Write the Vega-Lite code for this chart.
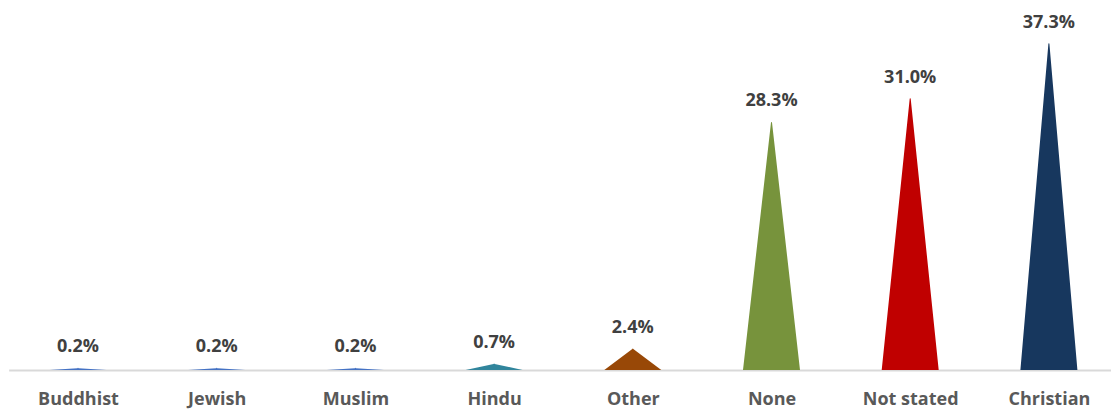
{
  "$schema": "https://vega.github.io/schema/vega-lite/v6.json",
  "autosize": "none",
  "padding": {"left": 0, "top": 0, "right": 0, "bottom": 40},
  "width": 1111,
  "height": 370,
  "config": {"view": {"stroke": null}},
  "data": {
    "values": [
      {"religion": "Buddhist", "pct": 0.002},
      {"religion": "Jewish", "pct": 0.002},
      {"religion": "Muslim", "pct": 0.002},
      {"religion": "Hindu", "pct": 0.007},
      {"religion": "Other", "pct": 0.024},
      {"religion": "None", "pct": 0.283},
      {"religion": "Not stated", "pct": 0.310},
      {"religion": "Christian", "pct": 0.373}
    ]
  },
  "encoding": {
    "x": {
      "field": "religion",
      "type": "nominal",
      "sort": null,
      "scale": {"range": [8.65, 1118.25], "paddingInner": 0, "paddingOuter": 0},
      "axis": {
        "title": null,
        "ticks": false,
        "domainColor": "#D9D9D9",
        "domainWidth": 2,
        "labelAngle": 0,
        "labelFont": "Open Sans",
        "labelFontWeight": "bold",
        "labelFontSize": 18,
        "labelColor": "#595959",
        "labelPadding": 20
      }
    }
  },
  "layer": [
    {
      "transform": [
        {"fold": ["pct"], "as": ["key", "value"]},
        {"impute": "value", "key": "key", "keyvals": ["base", "pct"], "groupby": ["religion"], "value": 0}
      ],
      "mark": {"type": "trail", "clip": true},
      "encoding": {
        "y": {"field": "value", "type": "quantitative", "scale": {"domain": [0, 0.423], "nice": false}, "axis": null},
        "order": {"field": "value", "type": "quantitative"},
        "size": {"field": "key", "type": "ordinal", "scale": {"domain": ["base", "pct"], "range": [57, 0]}, "legend": null},
        "color": {
          "field": "religion",
          "type": "nominal",
          "scale": {
            "domain": ["Buddhist", "Jewish", "Muslim", "Hindu", "Other", "None", "Not stated", "Christian"],
            "range": ["#4472C4", "#4472C4", "#4472C4", "#31859C", "#984807", "#77933C", "#C00000", "#17375E"]
          },
          "legend": null
        }
      }
    },
    {
      "mark": {"type": "text", "baseline": "bottom", "dy": -12, "font": "Open Sans", "fontWeight": "bold", "fontSize": 18, "color": "#404040"},
      "encoding": {
        "y": {"field": "pct", "type": "quantitative"},
        "text": {"field": "pct", "type": "quantitative", "format": ".1%"}
      }
    }
  ]
}
